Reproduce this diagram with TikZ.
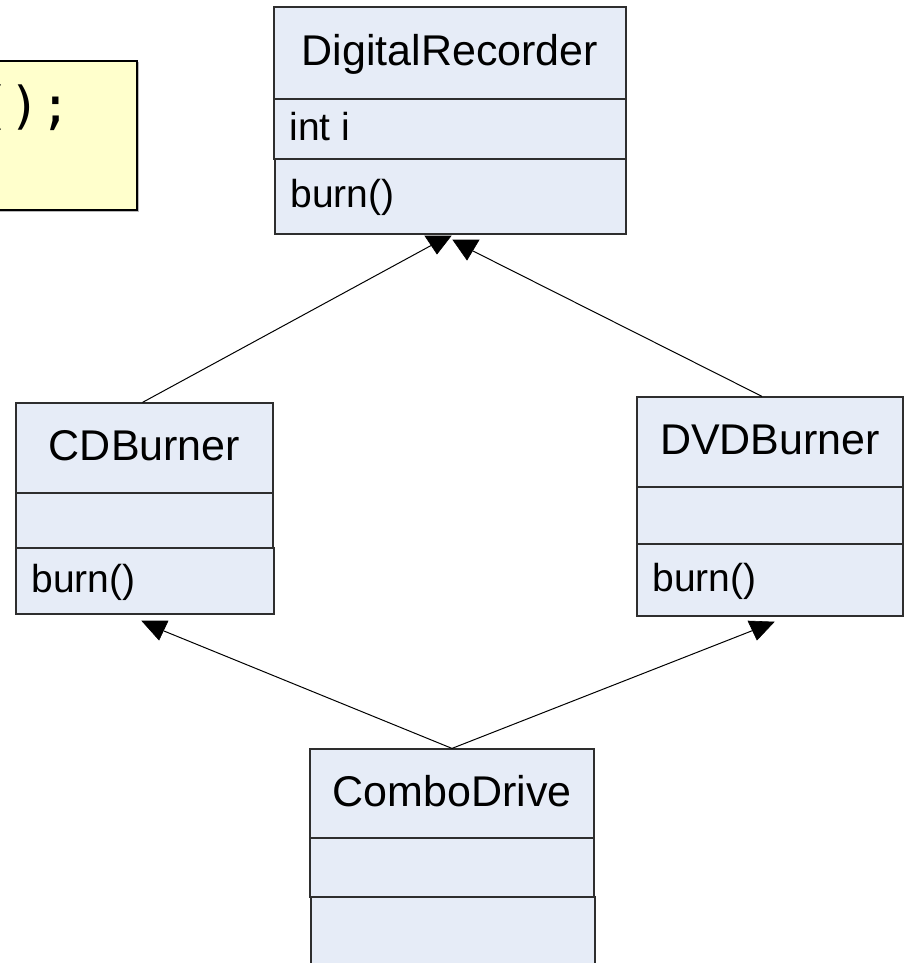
\documentclass[tikz,border=0pt]{standalone}
\usepackage{fontspec}
\setmainfont{Liberation Sans}
\newfontfamily\codefont{DejaVu Sans Mono}
\usetikzlibrary{fit}

\definecolor{classfill}{HTML}{E6ECF7}
\definecolor{notefill}{HTML}{FFFFCC}
\definecolor{classline}{HTML}{2E2E2E}

\tikzset{
  comp/.style={draw=classline, line width=1.2pt, fill=classfill, inner sep=0pt, rectangle},
  classname/.style={anchor=base, inner sep=0pt, font=\fontsize{43}{50}\selectfont},
  member/.style={anchor=base west, inner sep=0pt, font=\fontsize{39}{45}\selectfont},
  link/.style={draw=black, line width=1pt},
  tip/.style={fill=black, draw=black, line width=0.6pt, line join=miter},
}

\begin{document}
\begin{tikzpicture}[x=1pt, y=-1pt]
\useasboundingbox (0,0) rectangle (904,963);

% --- note (partly outside the page) ---
\fill[gray!55] (-10,62) rectangle (139,212);
\node[draw=black, line width=2.6pt, fill=notefill, inner sep=0pt,
      fit={(-10,61) (137,210)}] (note) {};
\node[anchor=base west, inner sep=0pt, font=\codefont\fontsize{51}{58}\selectfont]
      (note-text) at (-21,124) {();};

% --- DigitalRecorder ---
\node[comp, fit={(274,7) (626,99)}]    (dr-title) {};
\node[comp, fit={(274,99) (626,159)}]  (dr-attr) {};
\node[comp, fit={(275,159) (626,234)}] (dr-meth) {};
\node[classname] (dr-name) at ([yshift=-12.5pt]dr-title.center) {DigitalRecorder};
\node[member] (dr-attr-text) at ([xshift=16pt,yshift=-11pt]dr-attr.west) {int i};
\node[member] (dr-meth-text) at ([xshift=16pt,yshift=-11pt]dr-meth.west) {burn()};

% --- CDBurner ---
\node[comp, fit={(16,403) (273,493)}]  (cd-title) {};
\node[comp, fit={(16,493) (273,548)}]  (cd-attr) {};
\node[comp, fit={(16,548) (274,614)}]  (cd-meth) {};
\node[classname] (cd-name) at ([yshift=-12.5pt]cd-title.center) {CDBurner};
\node[member] (cd-meth-text) at ([xshift=16pt,yshift=-11pt]cd-meth.west) {burn()};

% --- DVDBurner ---
\node[comp, fit={(637,397) (903,487)}] (dvd-title) {};
\node[comp, fit={(637,487) (903,544)}] (dvd-attr) {};
\node[comp, fit={(637,544) (903,616)}] (dvd-meth) {};
\node[classname] (dvd-name) at ([yshift=-12.5pt]dvd-title.center) {DVDBurner};
\node[member] (dvd-meth-text) at ([xshift=16pt,yshift=-11pt]dvd-meth.west) {burn()};

% --- ComboDrive ---
\node[comp, fit={(310,749) (594,838)}] (combo-title) {};
\node[comp, fit={(310,838) (594,897)}] (combo-attr) {};
\node[comp, fit={(311,897) (595,980)}] (combo-meth) {};
\node[classname] (combo-name) at ([yshift=-12.5pt]combo-title.center) {ComboDrive};

% --- arrow heads ---
\coordinate (h1) at (432,245);
\coordinate (h2) at (473,251);
\coordinate (h3) at (164,631);
\coordinate (h4) at (754,630);
\filldraw[tip] (425,236) -- (451,236) -- (437,254) -- cycle;
\filldraw[tip] (453,240) -- (479,240) -- (467,260) -- cycle;
\filldraw[tip] (142,621) -- (168,621) -- (159,640) -- cycle;
\filldraw[tip] (748,621) -- (774,622) -- (757,640) -- cycle;

% --- generalisation connectors ---
\draw[link] ([xshift=-2pt]cd-title.north) -- (h1);
\draw[link] ([xshift=-8pt]dvd-title.north) -- (h2);
\draw[link] (combo-title.north) -- (h3);
\draw[link] (combo-title.north) -- (h4);
\end{tikzpicture}
\end{document}
